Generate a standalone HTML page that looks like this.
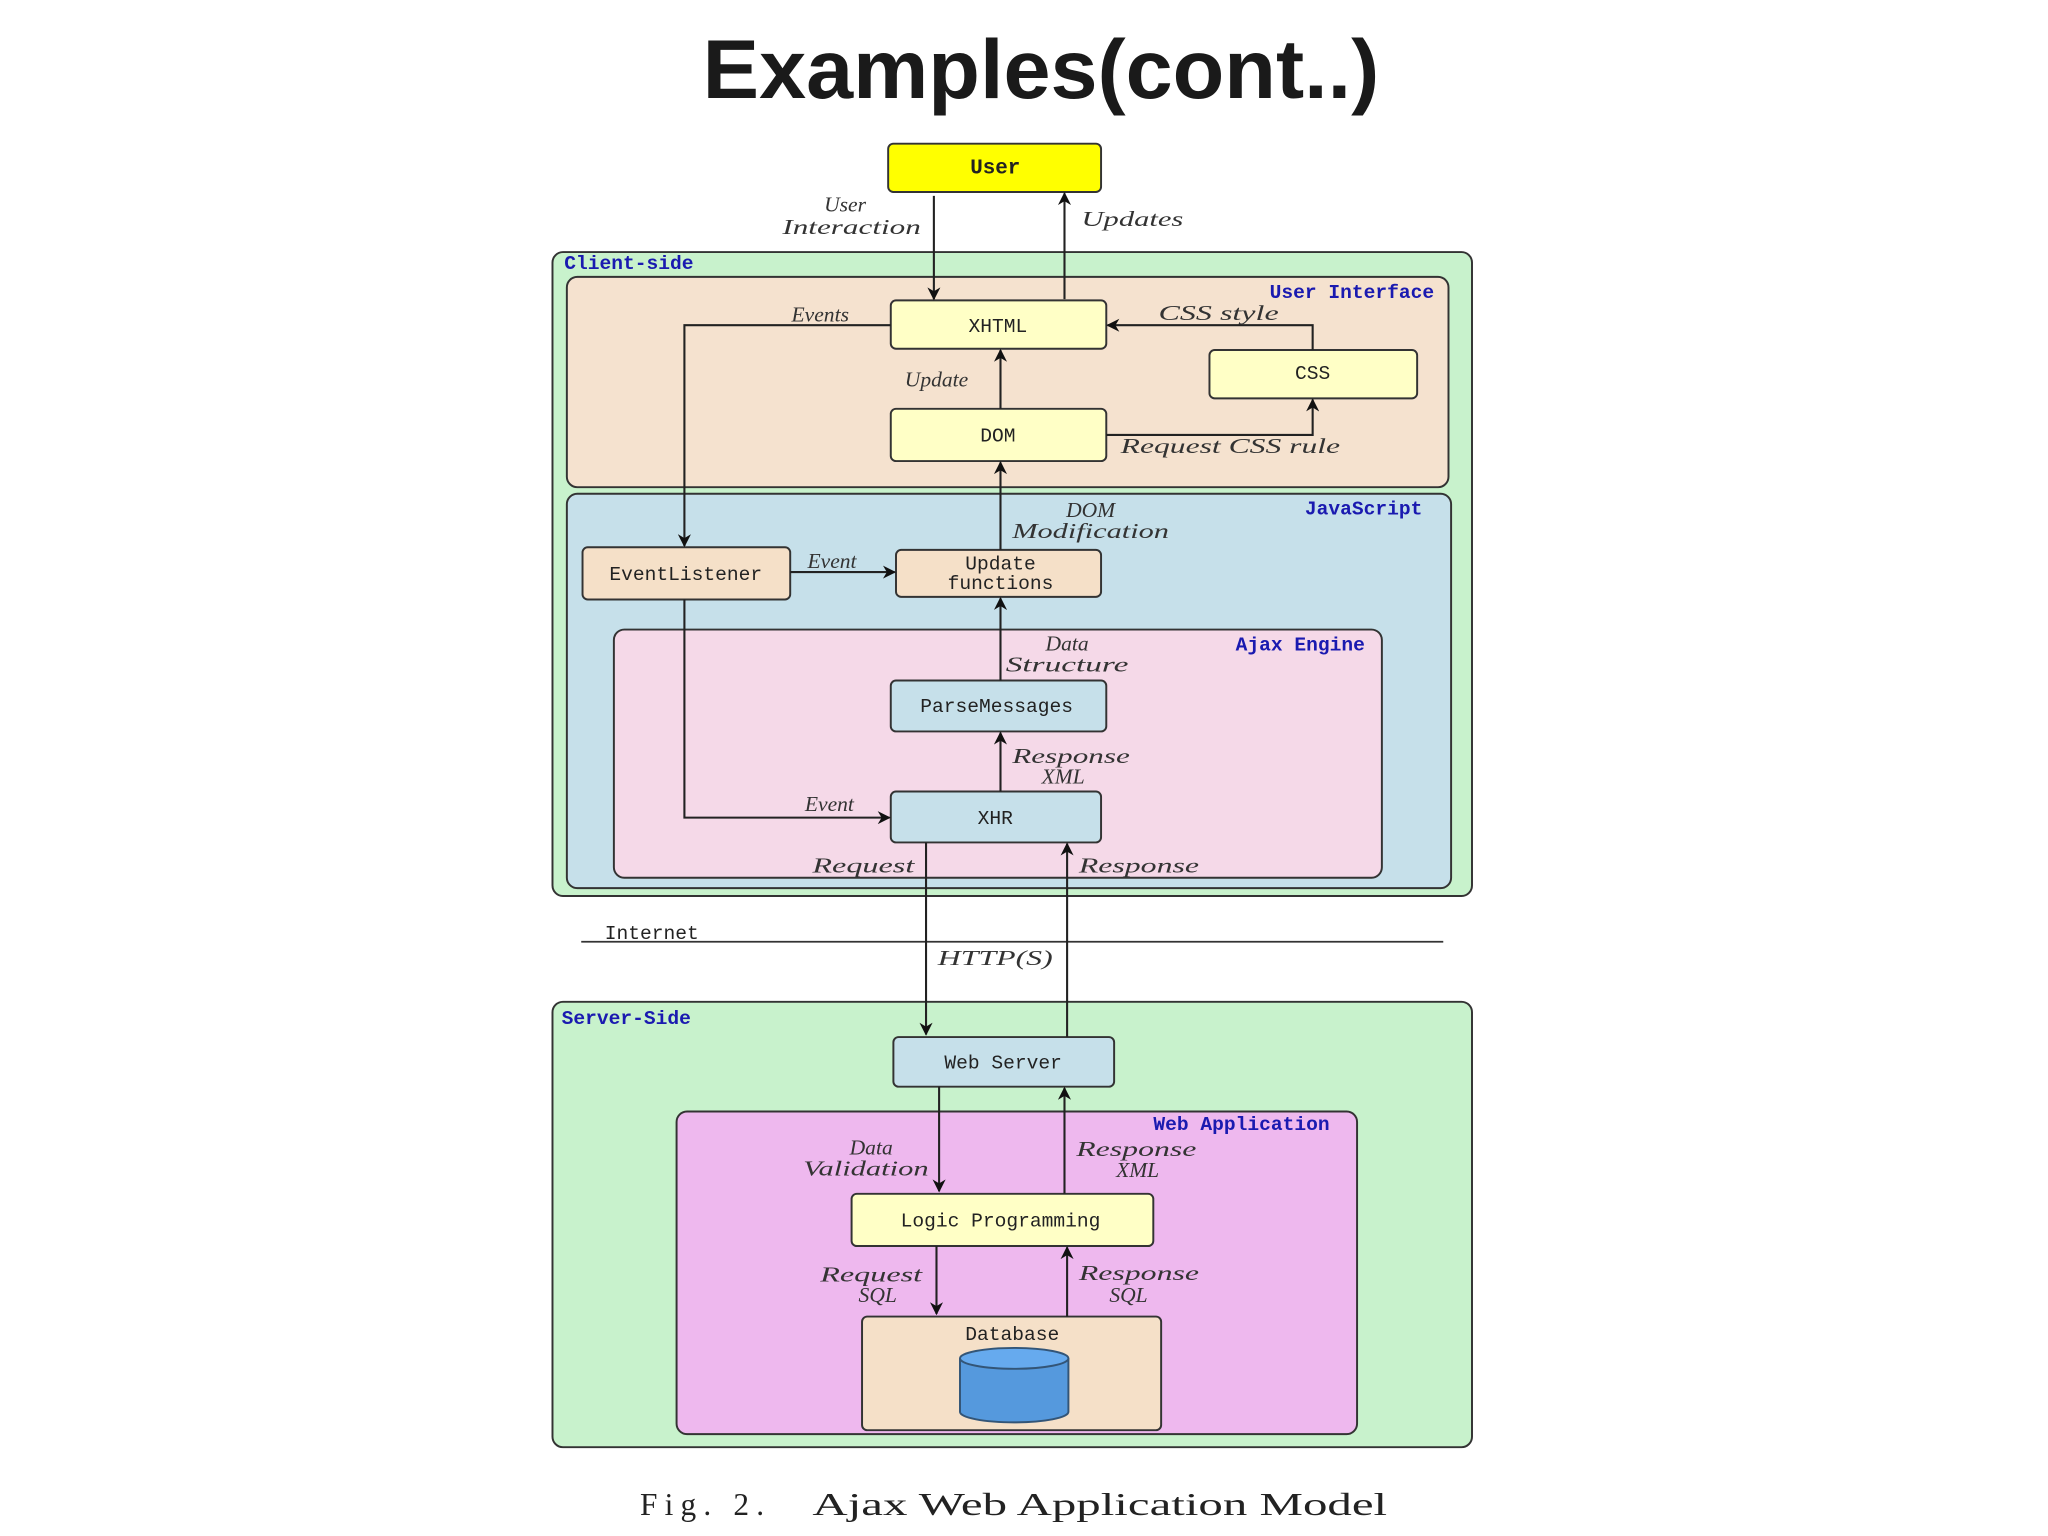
<!DOCTYPE html>
<html><head><meta charset="utf-8"><style>
html,body{margin:0;padding:0;background:#fff;}
svg{display:block;}
.t{font-family:"Liberation Mono",monospace;font-size:15px;fill:#222;}
.i{font-family:"Liberation Serif",serif;font-style:italic;font-size:16.5px;fill:#333;}
.b{font-family:"Liberation Mono",monospace;font-weight:bold;font-size:15px;fill:#1a1ab0;}
</style></head><body>
<svg width="2048" height="1536" viewBox="0 0 1568 1176" xmlns="http://www.w3.org/2000/svg">
<defs><marker id="a" markerWidth="10" markerHeight="10" refX="9" refY="5" orient="auto" markerUnits="userSpaceOnUse"><path d="M0,0 L10,5 L0,10 L3,5 z" fill="#111"/></marker></defs>
<text x="797" y="75" text-anchor="middle" font-family="Liberation Sans,sans-serif" font-weight="bold" font-size="64" fill="#1a1a1a" textLength="518" lengthAdjust="spacingAndGlyphs">Examples(cont..)</text>
<g stroke="#333" stroke-width="1.5">
<rect x="680" y="110" width="163" height="37" rx="4" fill="#ffff00"/>
<rect x="423" y="193" width="704" height="493" rx="8" fill="#c8f2cc"/>
<rect x="434" y="212" width="675" height="161" rx="8" fill="#f5e2cf"/>
<rect x="434" y="378" width="677" height="302" rx="8" fill="#c6e0ea"/>
<rect x="470" y="482" width="588" height="190" rx="8" fill="#f5d9e8"/>
<rect x="682" y="230" width="165" height="37" rx="4" fill="#ffffc6"/>
<rect x="926" y="268" width="159" height="37" rx="4" fill="#ffffc6"/>
<rect x="682" y="313" width="165" height="40" rx="4" fill="#ffffc6"/>
<rect x="446" y="419" width="159" height="40" rx="4" fill="#f5e0c8"/>
<rect x="686" y="421" width="157" height="36" rx="4" fill="#f5e0c8"/>
<rect x="682" y="521" width="165" height="39" rx="4" fill="#c6e0ea"/>
<rect x="682" y="606" width="161" height="39" rx="4" fill="#c6e0ea"/>
<rect x="423" y="767" width="704" height="341" rx="8" fill="#c8f2cc"/>
<rect x="684" y="794" width="169" height="38" rx="4" fill="#c6e0ea"/>
<rect x="518" y="851" width="521" height="247" rx="8" fill="#eeb8ee"/>
<rect x="652" y="914" width="231" height="40" rx="4" fill="#ffffc6"/>
<rect x="660" y="1008" width="229" height="87" rx="4" fill="#f5e0c8"/>
</g>
<g fill="#5599dd" stroke="#335577" stroke-width="1.5">
<path d="M735,1040 L735,1081 A41.5,8 0 0 0 818,1081 L818,1040"/>
<ellipse cx="776.5" cy="1040" rx="41.5" ry="8" fill="#66aaee"/>
</g>
<line x1="445" y1="721" x2="1105" y2="721" stroke="#333" stroke-width="1.3"/>
<g stroke="#222" stroke-width="1.6" fill="none" marker-end="url(#a)">
<line x1="715" y1="150" x2="715" y2="229"/>
<line x1="815" y1="229" x2="815" y2="148"/>
<polyline points="682,249 524,249 524,418"/>
<polyline points="524,459 524,626 681,626"/>
<line x1="605" y1="438" x2="685" y2="438"/>
<line x1="766" y1="313" x2="766" y2="268"/>
<line x1="766" y1="421" x2="766" y2="354"/>
<line x1="766" y1="521" x2="766" y2="458"/>
<line x1="766" y1="606" x2="766" y2="561"/>
<polyline points="1005,268 1005,249 848,249"/>
<polyline points="847,333 1005,333 1005,306"/>
<line x1="709" y1="645" x2="709" y2="792"/>
<line x1="817" y1="794" x2="817" y2="646"/>
<line x1="719" y1="832" x2="719" y2="912"/>
<line x1="815" y1="914" x2="815" y2="833"/>
<line x1="717" y1="954" x2="717" y2="1006"/>
<line x1="817" y1="1008" x2="817" y2="955"/>
</g>
<text x="762" y="133" text-anchor="middle" font-family="Liberation Mono,monospace" font-weight="bold" font-size="16" fill="#222">User</text>
<text x="764" y="254" text-anchor="middle" class="t">XHTML</text>
<text x="1005" y="290" text-anchor="middle" class="t">CSS</text>
<text x="764" y="338" text-anchor="middle" class="t">DOM</text>
<text x="525" y="444" text-anchor="middle" class="t">EventListener</text>
<text x="766" y="436" text-anchor="middle" class="t">Update</text>
<text x="766" y="451" text-anchor="middle" class="t">functions</text>
<text x="763" y="545" text-anchor="middle" class="t">ParseMessages</text>
<text x="762" y="631" text-anchor="middle" class="t">XHR</text>
<text x="768" y="818" text-anchor="middle" class="t">Web Server</text>
<text x="766" y="939" text-anchor="middle" class="t">Logic Programming</text>
<text x="775" y="1026" text-anchor="middle" class="t">Database</text>
<text x="499" y="719" text-anchor="middle" class="t">Internet</text>
<text x="432" y="206" class="b">Client-side</text>
<text x="1098" y="228" text-anchor="end" class="b">User Interface</text>
<text x="1089" y="394" text-anchor="end" class="b">JavaScript</text>
<text x="1045" y="498" text-anchor="end" class="b">Ajax Engine</text>
<text x="430" y="784" class="b">Server-Side</text>
<text x="1018" y="865" text-anchor="end" class="b">Web Application</text>
<g class="i">
<text x="647" y="162" text-anchor="middle" class="i">User</text>
<text x="652" y="179" text-anchor="middle" class="i" textLength="106" lengthAdjust="spacingAndGlyphs">Interaction</text>
<text x="828" y="173" class="i" textLength="78" lengthAdjust="spacingAndGlyphs">Updates</text>
<text x="628" y="246" text-anchor="middle" class="i">Events</text>
<text x="887" y="245" class="i" textLength="92" lengthAdjust="spacingAndGlyphs">CSS style</text>
<text x="717" y="296" text-anchor="middle" class="i">Update</text>
<text x="858" y="347" class="i" textLength="168" lengthAdjust="spacingAndGlyphs">Request CSS rule</text>
<text x="835" y="396" text-anchor="middle" class="i">DOM</text>
<text x="835" y="412" text-anchor="middle" class="i" textLength="120" lengthAdjust="spacingAndGlyphs">Modification</text>
<text x="637" y="435" text-anchor="middle" class="i">Event</text>
<text x="817" y="498" text-anchor="middle" class="i">Data</text>
<text x="817" y="514" text-anchor="middle" class="i" textLength="94" lengthAdjust="spacingAndGlyphs">Structure</text>
<text x="820" y="584" text-anchor="middle" class="i" textLength="90" lengthAdjust="spacingAndGlyphs">Response</text>
<text x="814" y="600" text-anchor="middle" class="i">XML</text>
<text x="635" y="621" text-anchor="middle" class="i">Event</text>
<text x="661" y="668" text-anchor="middle" class="i" textLength="78" lengthAdjust="spacingAndGlyphs">Request</text>
<text x="872" y="668" text-anchor="middle" class="i" textLength="92" lengthAdjust="spacingAndGlyphs">Response</text>
<text x="762" y="739" text-anchor="middle" class="i" textLength="88" lengthAdjust="spacingAndGlyphs">HTTP(S)</text>
<text x="667" y="884" text-anchor="middle" class="i">Data</text>
<text x="663" y="900" text-anchor="middle" class="i" textLength="96" lengthAdjust="spacingAndGlyphs">Validation</text>
<text x="870" y="885" text-anchor="middle" class="i" textLength="92" lengthAdjust="spacingAndGlyphs">Response</text>
<text x="871" y="901" text-anchor="middle" class="i">XML</text>
<text x="667" y="981" text-anchor="middle" class="i" textLength="78" lengthAdjust="spacingAndGlyphs">Request</text>
<text x="672" y="997" text-anchor="middle" class="i">SQL</text>
<text x="872" y="980" text-anchor="middle" class="i" textLength="92" lengthAdjust="spacingAndGlyphs">Response</text>
<text x="864" y="997" text-anchor="middle" class="i">SQL</text>
</g>
<text x="490" y="1160" font-family="Liberation Serif,serif" font-size="24" fill="#222" textLength="95" lengthAdjust="spacing">Fig. 2.</text>
<text x="622" y="1160" font-family="Liberation Serif,serif" font-size="24" fill="#222" textLength="440" lengthAdjust="spacingAndGlyphs">Ajax Web Application Model</text>
</svg>
</body></html>
